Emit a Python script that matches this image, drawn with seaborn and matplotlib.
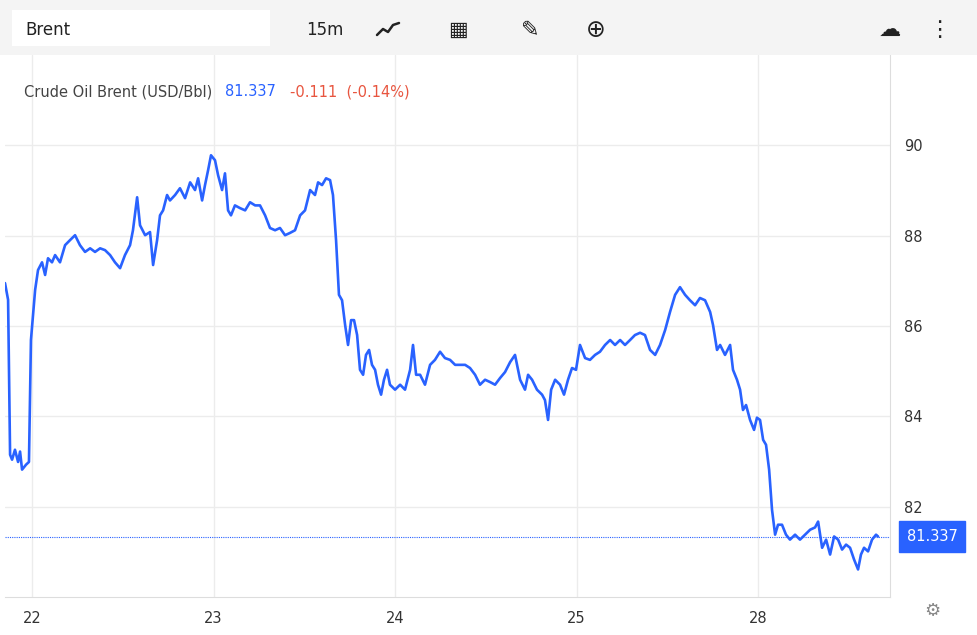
import numpy as np
import pandas as pd
import matplotlib
matplotlib.use("Agg")
import matplotlib.pyplot as plt
from matplotlib.lines import Line2D
import seaborn as sns

# day position (0 = 22nd) and price
days = [-0.149, -0.132, -0.121, -0.110, -0.094, -0.077, -0.066, -0.055, -0.033, -0.017,
        -0.006, 0.017, 0.033, 0.055, 0.072, 0.088, 0.110, 0.127, 0.154, 0.182,
        0.209, 0.237, 0.264, 0.292, 0.320, 0.347, 0.375, 0.402, 0.430, 0.457,
        0.485, 0.512, 0.540, 0.556, 0.579, 0.595, 0.623, 0.650, 0.667, 0.689,
        0.705, 0.722, 0.744, 0.760, 0.788, 0.815, 0.843, 0.871, 0.898, 0.915,
        0.937, 0.953, 0.970, 0.986, 1.008, 1.025, 1.047, 1.063, 1.080, 1.096,
        1.118, 1.146, 1.174, 1.201, 1.229, 1.256, 1.284, 1.311, 1.339, 1.366,
        1.394, 1.421, 1.449, 1.477, 1.504, 1.532, 1.559, 1.576, 1.598, 1.620,
        1.642, 1.658, 1.675, 1.691, 1.708, 1.725, 1.741, 1.758, 1.774, 1.791,
        1.807, 1.824, 1.840, 1.857, 1.873, 1.890, 1.906, 1.923, 1.939, 1.956,
        1.972, 2.000, 2.028, 2.055, 2.083, 2.099, 2.116, 2.138, 2.165, 2.193,
        2.220, 2.248, 2.275, 2.303, 2.331, 2.358, 2.386, 2.413, 2.441, 2.468,
        2.496, 2.523, 2.551, 2.579, 2.606, 2.634, 2.661, 2.689, 2.716, 2.733,
        2.755, 2.782, 2.810, 2.826, 2.843, 2.860, 2.882, 2.909, 2.931, 2.953,
        2.975, 2.997, 3.019, 3.047, 3.074, 3.102, 3.129, 3.157, 3.185, 3.212,
        3.240, 3.267, 3.295, 3.322, 3.350, 3.377, 3.405, 3.433, 3.460, 3.488,
        3.515, 3.543, 3.570, 3.598, 3.625, 3.653, 3.680, 3.708, 3.736, 3.752,
        3.774, 3.791, 3.818, 3.846, 3.862, 3.884, 3.901, 3.917, 3.934, 3.956,
        3.978, 3.994, 4.011, 4.028, 4.044, 4.061, 4.077, 4.094, 4.110, 4.132,
        4.154, 4.176, 4.204, 4.231, 4.259, 4.287, 4.314, 4.331, 4.353, 4.375,
        4.397, 4.419, 4.441, 4.463, 4.485, 4.507, 4.529, 4.551, 4.567, 4.584,
        4.606, 4.628, 4.650, 4.661]
price = [86.95, 86.58, 83.15, 83.04, 83.26, 82.99, 83.22, 82.82, 82.93, 82.99,
         85.69, 86.80, 87.24, 87.41, 87.13, 87.50, 87.41, 87.57, 87.41, 87.79,
         87.90, 88.01, 87.79, 87.64, 87.72, 87.64, 87.72, 87.68, 87.57, 87.41,
         87.28, 87.57, 87.79, 88.12, 88.85, 88.23, 88.01, 88.08, 87.35, 87.90,
         88.45, 88.56, 88.90, 88.78, 88.90, 89.05, 88.83, 89.18, 89.01, 89.27,
         88.78, 89.12, 89.45, 89.78, 89.67, 89.34, 89.01, 89.38, 88.56, 88.45,
         88.67, 88.61, 88.56, 88.74, 88.67, 88.67, 88.45, 88.17, 88.12, 88.17,
         88.01, 88.06, 88.12, 88.45, 88.56, 89.01, 88.90, 89.18, 89.12, 89.27,
         89.23, 88.90, 87.90, 86.69, 86.57, 86.02, 85.58, 86.13, 86.13, 85.80,
         85.03, 84.92, 85.36, 85.47, 85.14, 85.03, 84.70, 84.48, 84.81, 85.03,
         84.70, 84.59, 84.70, 84.59, 85.03, 85.58, 84.92, 84.92, 84.70, 85.14,
         85.25, 85.43, 85.29, 85.25, 85.14, 85.14, 85.14, 85.07, 84.92, 84.70,
         84.81, 84.76, 84.70, 84.85, 84.98, 85.20, 85.36, 84.81, 84.59, 84.92,
         84.81, 84.59, 84.48, 84.36, 83.92, 84.59, 84.81, 84.70, 84.48, 84.81,
         85.07, 85.03, 85.58, 85.29, 85.25, 85.36, 85.43, 85.58, 85.69, 85.58,
         85.69, 85.58, 85.69, 85.80, 85.85, 85.80, 85.47, 85.36, 85.58, 85.91,
         86.31, 86.69, 86.86, 86.69, 86.57, 86.46, 86.62, 86.57, 86.31, 86.02,
         85.47, 85.58, 85.36, 85.58, 85.03, 84.81, 84.59, 84.14, 84.25, 83.92,
         83.70, 83.97, 83.92, 83.48, 83.37, 82.82, 81.93, 81.38, 81.60, 81.60,
         81.38, 81.27, 81.38, 81.27, 81.38, 81.49, 81.54, 81.67, 81.09, 81.27,
         80.94, 81.34, 81.27, 81.05, 81.16, 81.09, 80.83, 80.61, 80.94, 81.09,
         81.01, 81.27, 81.38, 81.34]
tick_pos = [0, 1, 2, 3, 4]
tick_labels = ["22", "23", "24", "25", "28"]
y_ticks = [82, 84, 86, 88, 90]
last_price = 81.337

df = pd.DataFrame({"day": days, "price": price})
blue = "#2962ff"

sns.set_style("white")
plt.rcParams["font.family"] = ["DejaVu Sans"]
fig = plt.figure(figsize=(9.77, 6.35), dpi=100)
W, H = 977, 635
ax = fig.add_axes([5 / W, 38 / H, 885 / W, 542 / H])

sns.lineplot(data=df, x="day", y="price", ax=ax, color=blue, linewidth=1.9)
ax.set_xlim(-0.149, 4.727)
ax.set_ylim(80.0, 92.0)
ax.set_xticks(tick_pos)
ax.set_xticklabels(tick_labels)
ax.set_yticks(y_ticks)
ax.yaxis.tick_right()
ax.tick_params(axis="both", length=0, labelsize=10.5, colors="#333333")
ax.tick_params(axis="y", pad=10)
ax.tick_params(axis="x", pad=10)
ax.grid(True, color="#ececec", linewidth=1)
ax.set_xlabel("")
ax.set_ylabel("")
for s in ["top", "left"]:
    ax.spines[s].set_visible(False)
for s in ["right", "bottom"]:
    ax.spines[s].set_color("#dddddd")
ax.axhline(last_price, color=blue, linewidth=0.8, linestyle=(0, (1, 1)))
ax.text(1.0 + 42 / 885, last_price, f"{last_price:.3f}", transform=ax.get_yaxis_transform(),
        ha="center", va="center", color="white", fontsize=10.5, clip_on=False,
        bbox=dict(boxstyle="square,pad=0.55", fc=blue, ec=blue))

# header text
fig.text(24 / W, 1 - 92 / H, "Crude Oil Brent (USD/Bbl)", fontsize=10.5, color="#444444", va="center")
fig.text(225 / W, 1 - 92 / H, "81.337", fontsize=10.5, color=blue, va="center")
fig.text(290 / W, 1 - 92 / H, "-0.111  (-0.14%)", fontsize=10.5, color="#e8553f", va="center")

# toolbar
fig.patches.append(plt.Rectangle((0, 1 - 55 / H), 1, 55 / H, transform=fig.transFigure,
                                 fc="#f4f4f4", ec="none", zorder=0))
fig.patches.append(plt.Rectangle((12 / W, 1 - 46 / H), 258 / W, 36 / H, transform=fig.transFigure,
                                 fc="white", ec="none", zorder=1))
fig.text(25 / W, 1 - 30 / H, "Brent", fontsize=12, color="#222222", va="center")
fig.text(306 / W, 1 - 30 / H, "15m", fontsize=12, color="#222222", va="center")
# small zigzag line icon
zx = np.array([377, 383, 388, 393, 399]) / W
zy = 1 - np.array([35, 29, 32, 25, 23]) / H
fig.lines.append(Line2D(zx, zy, transform=fig.transFigure, color="#222222", linewidth=1.8))
fig.text(458 / W, 1 - 30 / H, "▦", fontsize=15, color="#222222", va="center", ha="center")
fig.text(530 / W, 1 - 30 / H, "✎", fontsize=16, color="#222222", va="center", ha="center")
fig.text(596 / W, 1 - 30 / H, "⊕", fontsize=17, color="#222222", va="center", ha="center")
fig.text(890 / W, 1 - 30 / H, "☁", fontsize=16, color="#222222", va="center", ha="center")
fig.text(939 / W, 1 - 30 / H, "⋮", fontsize=16, color="#222222", va="center", ha="center")
fig.text(932 / W, 1 - 611 / H, "⚙", fontsize=13, color="#888888", va="center", ha="center")

fig.savefig("out.png", dpi=100)
